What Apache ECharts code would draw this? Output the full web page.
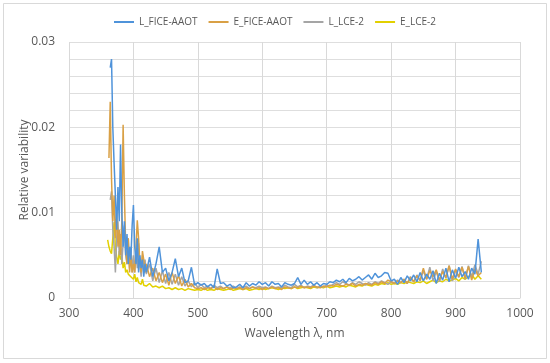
<!DOCTYPE html>
<html>
<head>
<meta charset="utf-8">
<script src="https://cdn.jsdelivr.net/npm/echarts@6/dist/echarts.min.js"></script>
<style>html,body{margin:0;padding:0;background:#fff}#c{width:550px;height:363px}</style>
</head>
<body>
<div id="c"></div>
<script>
const wavelengths = [
  360,362,364,366,368,370,372,374,376,378,
  380,382,384,386,388,390,392,394,396,398,
  400,402,404,406,408,410,412,414,416,418,
  420,425,430,435,440,445,450,455,460,465,
  470,475,480,485,490,495,500,505,510,515,
  520,525,530,535,540,545,550,555,560,565,
  570,575,580,585,590,595,600,605,610,615,
  620,625,630,635,640,645,650,655,660,665,
  670,675,680,685,690,695,700,705,710,715,
  720,725,730,735,740,745,750,755,760,765,
  770,775,780,785,790,795,800,805,810,815,
  820,825,830,835,840,845,850,855,860,865,
  870,875,880,885,890,895,900,905,910,915,
  920,925,930,935,940
];
const L_FICE_AAOT = [
  null,null,0.027,0.028,0.020,0.0158,0.012,0.008,0.013,0.009,
  0.018,0.010,0.006,0.009,0.005,0.0075,0.004,0.006,0.0045,0.0085,
  0.0109,0.006,0.004,0.007,0.003,0.005,0.0035,0.0045,0.0025,0.004,
  0.003,0.0048,0.0025,0.004,0.006,0.003,0.0035,0.002,0.003,0.0046,
  0.0025,0.0035,0.0018,0.002,0.0036,0.0015,0.0018,0.0015,0.0017,0.0013,
  0.0016,0.0012,0.0034,0.0017,0.0018,0.0014,0.0016,0.0012,0.0013,0.0016,
  0.0012,0.0018,0.0014,0.0017,0.0015,0.0019,0.0016,0.0018,0.0014,0.0019,
  0.0016,0.0017,0.0013,0.0018,0.0016,0.0015,0.0017,0.0024,0.0016,0.0021,
  0.0016,0.0019,0.0015,0.0018,0.0014,0.0017,0.0016,0.0019,0.0018,0.0021,
  0.0019,0.0022,0.0018,0.0023,0.002,0.0022,0.0025,0.0021,0.0024,0.0027,
  0.0022,0.0029,0.0024,0.0026,0.003,0.0029,0.002,0.0022,0.0016,0.0024,
  0.0018,0.0026,0.002,0.0027,0.0019,0.003,0.002,0.0028,0.0022,0.0032,
  0.0017,0.0029,0.0021,0.0035,0.0019,0.0033,0.0023,0.0036,0.0025,0.0031,
  0.0022,0.0035,0.0028,0.0069,0.003
];
const E_FICE_AAOT = [
  null,0.0164,0.023,0.014,0.009,0.012,0.007,0.010,0.006,0.008,
  0.005,0.009,0.0203,0.012,0.006,0.004,0.007,0.003,0.005,0.003,
  0.004,0.003,0.006,0.0091,0.007,0.004,0.003,0.0055,0.0045,0.003,
  0.004,0.0025,0.0035,0.002,0.003,0.0018,0.0028,0.0015,0.003,0.0017,
  0.0026,0.0014,0.0022,0.0013,0.0017,0.0012,0.0011,0.0012,0.001,0.0012,
  0.0011,0.0013,0.001,0.0012,0.0011,0.0013,0.001,0.0012,0.0011,0.0012,
  0.001,0.0012,0.0011,0.0013,0.0011,0.0012,0.001,0.0012,0.0011,0.0013,
  0.0011,0.0012,0.001,0.0013,0.0012,0.0011,0.0013,0.0012,0.0014,0.0012,
  0.0013,0.0012,0.0014,0.0013,0.0012,0.0014,0.0013,0.0015,0.0014,0.0016,
  0.0015,0.0014,0.0016,0.0015,0.0017,0.0014,0.0016,0.0015,0.0017,0.0016,
  0.0015,0.0018,0.0016,0.0019,0.0017,0.0021,0.0019,0.0017,0.002,0.0018,
  0.0022,0.0017,0.0024,0.0019,0.0026,0.0021,0.0035,0.0022,0.0032,0.0025,
  0.0033,0.0021,0.0031,0.0024,0.0038,0.0022,0.0034,0.0025,0.0036,0.0023,
  0.0037,0.0021,0.0034,0.0026,0.003
];
const L_LCE_2 = [
  null,null,0.0115,0.0125,0.008,0.006,0.003,0.007,0.009,0.005,
  0.0075,0.004,0.0065,0.0085,0.005,0.004,0.007,0.0035,0.006,0.003,
  0.005,0.003,0.0055,0.0035,0.0064,0.004,0.0025,0.005,0.003,0.0045,
  0.0028,0.004,0.002,0.0035,0.0018,0.0032,0.0017,0.003,0.0016,0.0028,
  0.0015,0.0025,0.0014,0.002,0.0013,0.0018,0.0012,0.0016,0.0012,0.0014,
  0.0011,0.0015,0.0012,0.0014,0.0011,0.0013,0.0012,0.0014,0.0011,0.0013,
  0.0012,0.0014,0.0011,0.0013,0.0012,0.0014,0.0012,0.0013,0.0011,0.0014,
  0.0012,0.0013,0.0012,0.0015,0.0013,0.0012,0.0016,0.0013,0.0015,0.0012,
  0.0014,0.0013,0.0015,0.0012,0.0014,0.0013,0.0015,0.0014,0.0016,0.0018,
  0.0016,0.0019,0.0017,0.0015,0.0018,0.0016,0.0019,0.0017,0.0015,0.0018,
  0.0016,0.0019,0.0017,0.002,0.0018,0.0016,0.0019,0.0017,0.0021,0.0018,
  0.0022,0.0017,0.0025,0.0019,0.0027,0.002,0.0032,0.0022,0.0036,0.002,
  0.0031,0.0019,0.0034,0.0023,0.0038,0.002,0.0033,0.0024,0.0037,0.0022,
  0.0038,0.0024,0.0039,0.0028,0.0043
];
const E_LCE_2 = [
  0.0068,0.006,0.0055,0.0052,0.005,0.0089,0.006,0.0048,0.004,0.0055,
  0.0045,0.005,0.0035,0.0042,0.003,0.0033,0.0028,0.003,0.0025,0.0027,
  0.0022,0.0028,0.0019,0.0024,0.0018,0.002,0.0016,0.0022,0.0015,0.0017,
  0.0014,0.0017,0.0013,0.0014,0.0012,0.0014,0.0011,0.0012,0.001,0.0012,
  0.001,0.0011,0.0009,0.0011,0.001,0.0009,0.001,0.0009,0.0011,0.0009,
  0.001,0.0009,0.0011,0.001,0.0009,0.001,0.0011,0.0009,0.001,0.0011,
  0.001,0.0011,0.0009,0.001,0.0011,0.001,0.0012,0.001,0.0011,0.0012,
  0.0011,0.001,0.0012,0.0011,0.0012,0.0011,0.0013,0.0011,0.0012,0.0013,
  0.0012,0.0011,0.0013,0.0012,0.0013,0.0012,0.0014,0.0012,0.0013,0.0014,
  0.0013,0.0014,0.0013,0.0015,0.0014,0.0013,0.0015,0.0014,0.0016,0.0015,
  0.0014,0.0016,0.0015,0.0017,0.0016,0.0018,0.0016,0.0017,0.0016,0.0018,
  0.0017,0.0019,0.0018,0.0017,0.0019,0.0018,0.002,0.0017,0.0019,0.0021,
  0.0018,0.002,0.0019,0.0022,0.002,0.0021,0.0023,0.002,0.0024,0.0022,
  0.0025,0.0028,0.0022,0.0026,0.0022
];
const seriesNames = ['L_FICE-AAOT','E_FICE-AAOT','L_LCE-2','E_LCE-2'];
const seriesColors = ['#4F93DA','#D9A045','#A5A5A5','#E2D000'];
const seriesValues = [L_FICE_AAOT, E_FICE_AAOT, L_LCE_2, E_LCE_2];
const xTicks = [300,400,500,600,700,800,900,1000];
const yTicks = [0,0.01,0.02,0.03];

function pairs(vals){
  const out = [];
  for (let i = 0; i < wavelengths.length; i++) {
    if (vals[i] !== null && vals[i] !== undefined) out.push([wavelengths[i], vals[i]]);
  }
  return out;
}

const FONT = '"Open Sans", sans-serif';
const chart = echarts.init(document.getElementById('c'), null, {renderer:'canvas'});
chart.setOption({
  animation:false,
  backgroundColor:'#fff',
  textStyle:{fontFamily:FONT},
  graphic:[{type:'rect',shape:{x:3.5,y:3.5,width:543,height:355},style:{fill:'none',stroke:'#D9D9D9',lineWidth:1},silent:true}],
  legend:{
    top:12,left:'center',icon:'rect',itemWidth:20,itemHeight:2,itemGap:11,
    textStyle:{color:'#595959',fontSize:10,fontFamily:FONT},
    data:seriesNames
  },
  grid:{left:69,right:30,top:42,bottom:65,containLabel:false},
  xAxis:{
    type:'value',min:xTicks[0],max:xTicks[xTicks.length-1],interval:100,
    name:'Wavelength λ, nm',nameLocation:'middle',nameGap:30,nameMoveOverlap:false,
    nameTextStyle:{color:'#595959',fontSize:12,fontFamily:FONT},
    axisLine:{show:true,lineStyle:{color:'#D9D9D9'}},
    axisTick:{show:false},
    axisLabel:{color:'#595959',fontSize:12,margin:10,fontFamily:FONT,formatter:v=>String(v)},
    splitLine:{show:true,lineStyle:{color:'#D9D9D9',width:1}}
  },
  yAxis:{
    type:'value',min:0,max:yTicks[yTicks.length-1],interval:0.002,
    name:'Relative variability',nameLocation:'middle',nameGap:38,nameMoveOverlap:false,
    nameTextStyle:{color:'#595959',fontSize:12,fontFamily:FONT},
    axisLine:{show:false},axisTick:{show:false},
    axisLabel:{color:'#595959',fontSize:12,margin:14,fontFamily:FONT,
      formatter:v=>{
        const hit = yTicks.find(t=>Math.abs(t-v)<1e-9);
        if (hit === undefined) return '';
        return hit===0 ? '0' : hit.toFixed(2);
      }},
    splitLine:{show:true,lineStyle:{color:'#DEDEDE',width:1}}
  },
  series: seriesNames.map((n,i)=>({
    name:n,type:'line',data:pairs(seriesValues[i]),
    symbol:'none',showSymbol:false,
    lineStyle:{color:seriesColors[i],width:1.5},
    itemStyle:{color:seriesColors[i]},
    z: 10 - i
  }))
});
</script>
</body>
</html>
